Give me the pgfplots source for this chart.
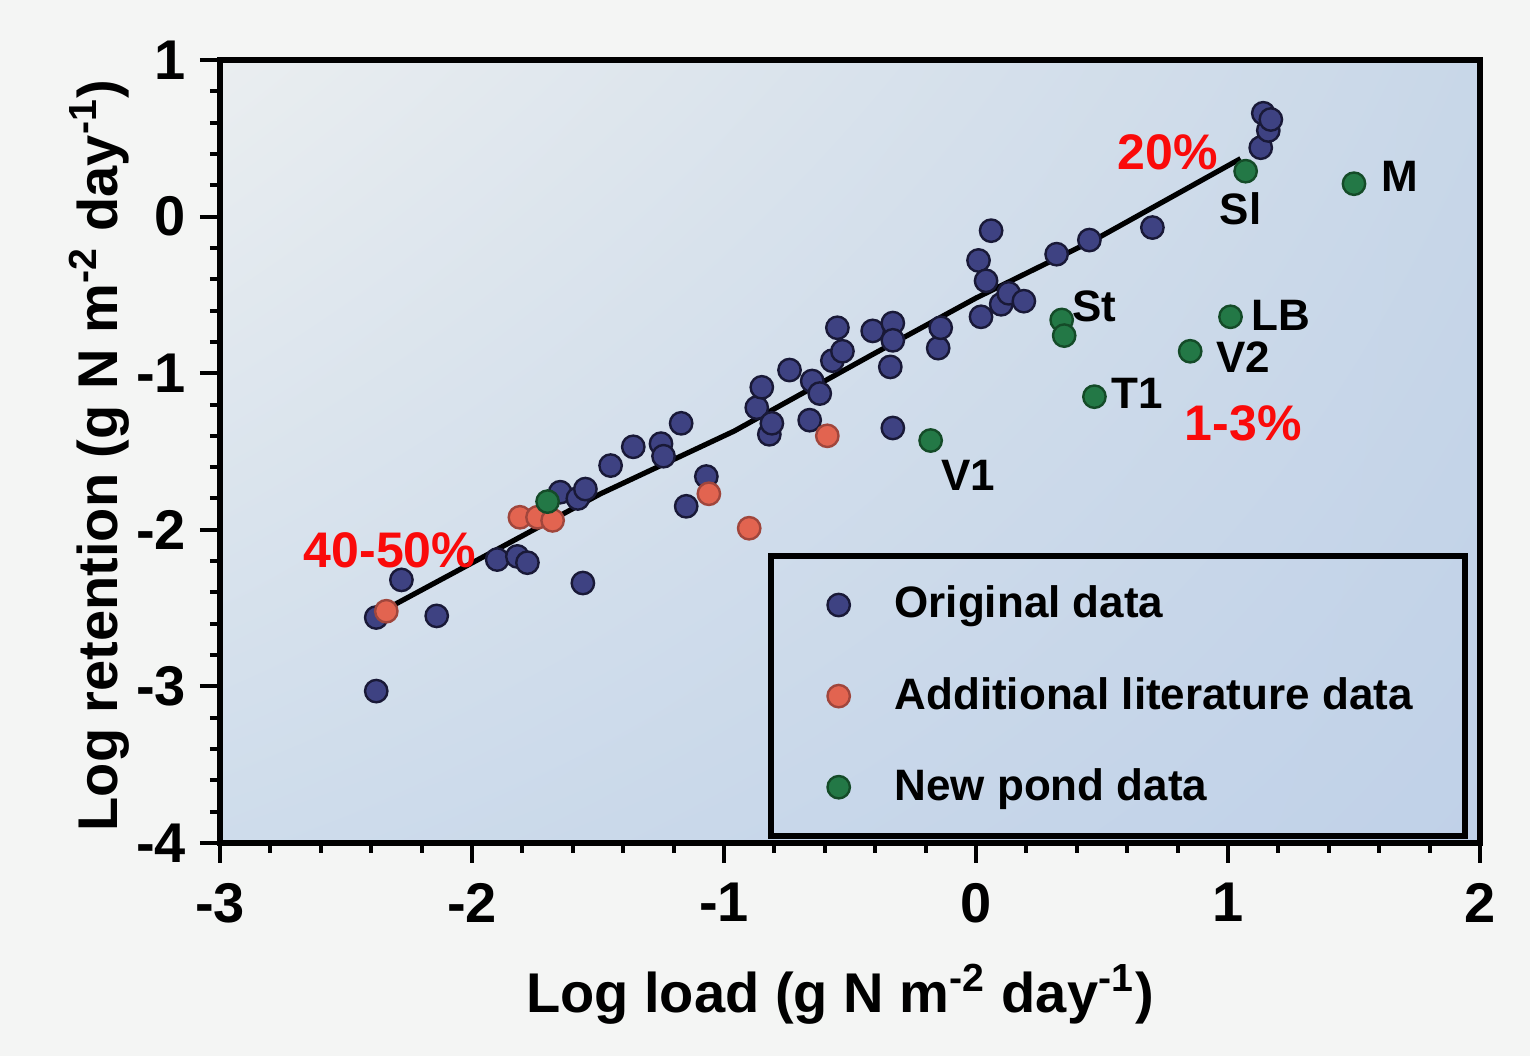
\documentclass[border=0pt]{standalone}
\usepackage{fontspec}
\setmainfont{Liberation Sans}
\usepackage{pgfplots}
\pgfplotsset{compat=1.18}
\usetikzlibrary{backgrounds,shadings}
\definecolor{outerbg}{RGB}{244,245,244}
\definecolor{bgUL}{RGB}{234,238,240}
\definecolor{bgUR}{RGB}{200,215,232}
\definecolor{bgLL}{RGB}{206,220,235}
\definecolor{bgLR}{RGB}{192,209,232}
\definecolor{navyfill}{RGB}{62,66,130}
\definecolor{navydraw}{RGB}{25,25,55}
\definecolor{redfill}{RGB}{226,100,80}
\definecolor{reddraw}{RGB}{160,70,60}
\definecolor{greenfill}{RGB}{35,120,70}
\definecolor{greendraw}{RGB}{20,75,40}
\definecolor{annred}{RGB}{250,10,10}
\begin{document}
\begin{tikzpicture}
\begin{axis}[
  scale only axis, width=315pt, height=195.75pt,
  xmin=-3, xmax=2, ymin=-4, ymax=1,
  xtick={-3,-2,-1,0,1,2}, xticklabels={-3,-2,-1,0,1,2},
  ytick={-4,-3,-2,-1,0,1}, yticklabels={-4,-3,-2,-1,0,1},
  minor x tick num=4, minor y tick num=4,
  tick align=outside, tick pos=left,
  major tick length=5pt, minor tick length=2.5pt,
  every tick/.style={black, line width=1pt},
  axis line style={line width=1.3pt},
  axis background/.style={shade, upper left=bgUL, upper right=bgUR, lower left=bgLL, lower right=bgLR},
  tick label style={font=\bfseries\fontsize{14}{16}\selectfont},
  xticklabel style={yshift=-1.5pt},
  label style={font=\bfseries\fontsize{14}{16}\selectfont},
  xlabel={Log load (g N m\textsuperscript{-2} day\textsuperscript{-1})},
  ylabel={Log retention (g N m\textsuperscript{-2} day\textsuperscript{-1})},
  xlabel style={at={(axis description cs:0.492,-0.2159)}, anchor=base},
  ylabel style={at={(axis description cs:-0.0817,0.495)}, anchor=base},
  legend style={at={(axis description cs:0.435,0.370)}, anchor=north west,
    draw=black, line width=1.4pt, fill=none,
    font=\bfseries\fontsize{11}{13}\selectfont,
    inner xsep=11pt, inner ysep=5.5pt, row sep=9.3pt},
  legend cell align=left,
  legend image code/.code={\path (0pt,0pt) (16.5pt,0pt); \draw plot coordinates {(5.25pt,0pt)};},
]
\addplot[black, line width=1.3pt, forget plot] coordinates {
(-2.31,-2.48) (-1.49,-1.77) (-0.96,-1.37) (-0.41,-0.88) (0.0,-0.52) (0.48,-0.14) (1.05,0.37)};

\addplot[only marks, mark=*, mark size=2.8pt, mark options={fill=navyfill, draw=navydraw, line width=0.6pt}] coordinates {
(-2.38,-3.03) (-2.38,-2.56) (-2.28,-2.32) (-2.14,-2.55) (-1.56,-2.34)
(-1.90,-2.19) (-1.82,-2.17) (-1.78,-2.21) (-1.65,-1.76) (-1.58,-1.80)
(-1.55,-1.74) (-1.45,-1.59) (-1.36,-1.47) (-1.25,-1.45) (-1.24,-1.53)
(-1.17,-1.32) (-1.07,-1.66) (-1.15,-1.85) (-0.87,-1.22) (-0.85,-1.09)
(-0.82,-1.39) (-0.81,-1.32) (-0.74,-0.98) (-0.65,-1.05) (-0.62,-1.13)
(-0.66,-1.30) (-0.57,-0.92) (-0.55,-0.71) (-0.53,-0.86) (-0.41,-0.73)
(-0.33,-0.68) (-0.33,-0.79) (-0.34,-0.96) (-0.33,-1.35) (-0.15,-0.84)
(-0.14,-0.71) (0.02,-0.64) (0.06,-0.09) (0.01,-0.28) (0.04,-0.41)
(0.10,-0.56) (0.13,-0.49) (0.19,-0.54) (0.32,-0.24) (0.45,-0.15)
(0.70,-0.07) (1.13,0.44) (1.16,0.55) (1.14,0.66) (1.17,0.62)};
\addlegendentry{Original data}

\addplot[only marks, mark=*, mark size=2.8pt, mark options={fill=redfill, draw=reddraw, line width=0.6pt}] coordinates {
(-2.34,-2.52) (-1.81,-1.92) (-1.74,-1.92) (-1.68,-1.94) (-1.06,-1.77)
(-0.90,-1.99) (-0.59,-1.40) (2.04,0.18)};
\addlegendentry{Additional literature data}

\addplot[only marks, mark=*, mark size=2.8pt, mark options={fill=greenfill, draw=greendraw, line width=0.6pt}] coordinates {
(-1.70,-1.82) (-0.18,-1.43) (0.34,-0.66) (0.35,-0.76) (0.47,-1.15)
(0.85,-0.86) (1.01,-0.64) (1.07,0.29) (1.50,0.21)};
\addlegendentry{New pond data}

\begin{scope}[font=\bfseries\fontsize{11}{13}\selectfont]
\node at (axis cs:0.47,-0.57) {St};
\node at (axis cs:1.05,0.05) {Sl};
\node at (axis cs:1.21,-0.63) {LB};
\node at (axis cs:1.06,-0.90) {V2};
\node at (axis cs:0.64,-1.13) {T1};
\node at (axis cs:-0.03,-1.65) {V1};
\node at (axis cs:1.68,0.26) {M};
\end{scope}
\begin{scope}[font=\bfseries\fontsize{12.5}{14}\selectfont, text=annred]
\node at (axis cs:0.762,0.41) {20\%};
\node at (axis cs:-2.325,-2.13) {40-50\%};
\node at (axis cs:1.06,-1.32) {1-3\%};
\end{scope}
\end{axis}
\pgfresetboundingbox
\path[use as bounding box] ([xshift=-55pt,yshift=-53.25pt]current axis.south west) rectangle ([xshift=12.5pt,yshift=15pt]current axis.north east);
\begin{scope}[on background layer]
\fill[outerbg] ([xshift=-55pt,yshift=-53.25pt]current axis.south west) rectangle ([xshift=12.5pt,yshift=15pt]current axis.north east);
\end{scope}
\end{tikzpicture}
\end{document}
